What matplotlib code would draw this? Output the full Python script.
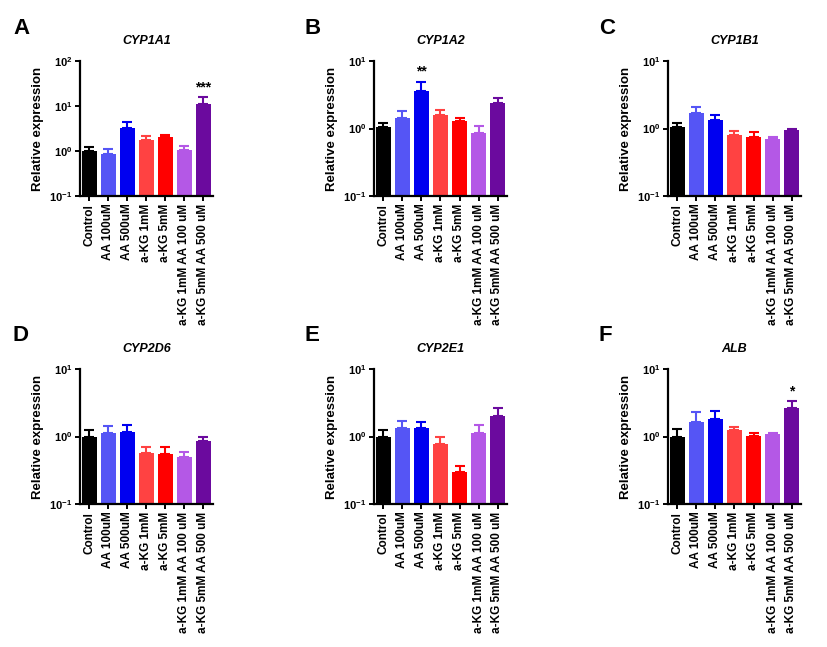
import matplotlib
matplotlib.use("Agg")
import matplotlib.pyplot as plt
import numpy as np

plt.rcParams['font.family'] = ['Liberation Sans', 'DejaVu Sans']
plt.rcParams['mathtext.fontset'] = 'custom'
plt.rcParams['mathtext.rm'] = 'Liberation Sans:bold'
plt.rcParams['mathtext.bf'] = 'Liberation Sans:bold'

categories = ["Control", "AA 100uM", "AA 500uM", "a-KG 1mM", "a-KG 5mM",
              "a-KG 1mM AA 100 uM", "a-KG 5mM AA 500 uM"]
colors = ["#000000", "#5555F5", "#0000F0", "#FF4242", "#FF0000", "#B458E6", "#6B0A9E"]

genes = ["CYP1A1", "CYP1A2", "CYP1B1", "CYP2D6", "CYP2E1", "ALB"]
letters = ["A", "B", "C", "D", "E", "F"]

cyp1a1_mean = [1.0, 0.87, 3.24, 1.73, 2.01, 1.05, 11.3]
cyp1a1_err = [1.23, 1.10, 4.3, 2.19, 2.23, 1.31, 15.8]
cyp1a2_mean = [1.04, 1.41, 3.59, 1.58, 1.28, 0.85, 2.41]
cyp1a2_err = [1.19, 1.84, 4.88, 1.87, 1.44, 1.10, 2.82]
cyp1b1_mean = [1.04, 1.68, 1.32, 0.81, 0.74, 0.71, 0.95]
cyp1b1_err = [1.19, 2.08, 1.60, 0.92, 0.88, 0.75, 0.99]
cyp2d6_mean = [1.0, 1.14, 1.17, 0.56, 0.55, 0.50, 0.87]
cyp2d6_err = [1.24, 1.45, 1.48, 0.69, 0.69, 0.58, 0.97]
cyp2e1_mean = [1.0, 1.35, 1.32, 0.78, 0.30, 1.14, 2.0]
cyp2e1_err = [1.25, 1.69, 1.66, 0.98, 0.36, 1.46, 2.63]
alb_mean = [1.0, 1.64, 1.79, 1.25, 1.03, 1.10, 2.63]
alb_err = [1.27, 2.27, 2.40, 1.40, 1.11, 1.13, 3.32]

means = [cyp1a1_mean, cyp1a2_mean, cyp1b1_mean, cyp2d6_mean, cyp2e1_mean, alb_mean]
uppers = [cyp1a1_err, cyp1a2_err, cyp1b1_err, cyp2d6_err, cyp2e1_err, alb_err]
ymaxes = [100, 10, 10, 10, 10, 10]
stars = [{6: "***"}, {2: "**"}, {}, {}, {}, {6: "*"}]

fig = plt.figure(figsize=(8.28, 6.47), dpi=100)
W, H = 828, 647
lefts = [80, 374, 668]
tops = [61, 369]
ax_w, ax_h = 133, 135
letter_x = [13, 305, 599]
letter_y = [18, 325]

for i in range(6):
    r, c = divmod(i, 3)
    l = lefts[c]; t = tops[r]
    ax = fig.add_axes([l / W, 1 - (t + ax_h) / H, ax_w / W, ax_h / H])
    x = np.arange(len(categories))
    m = np.array(means[i]); u = np.array(uppers[i])
    ax.bar(x, m, width=0.74, color=colors, bottom=0, zorder=2)
    for xi, mi, ui, col in zip(x, m, u, colors):
        ax.errorbar(xi, mi, yerr=[[0], [ui - mi]], fmt='none', ecolor=col,
                    elinewidth=1.5, capsize=3.5, capthick=1.5, zorder=3)
    ax.set_yscale('log')
    ax.set_ylim(0.1, ymaxes[i])
    ax.set_xlim(-0.5, len(categories) - 0.5)
    decs = np.arange(-1, int(np.log10(ymaxes[i])) + 1)
    ax.set_yticks([10.0 ** d for d in decs])
    ax.set_yticklabels([r'$\mathbf{10^{%d}}$' % d for d in decs], fontsize=8)
    ax.yaxis.set_minor_locator(matplotlib.ticker.NullLocator())
    ax.set_xticks(x)
    ax.set_xticklabels(categories, rotation=90, fontsize=8.5, fontweight='bold')
    ax.spines['top'].set_visible(False)
    ax.spines['right'].set_visible(False)
    ax.spines['left'].set_linewidth(1.6)
    ax.spines['bottom'].set_linewidth(1.6)
    ax.tick_params(axis='both', width=1.4, length=3.5, pad=2)
    ax.set_ylabel("Relative expression", fontsize=9.5, fontweight='bold', labelpad=4)
    ax.set_title(genes[i], fontsize=9, fontweight='bold', style='italic', pad=12)
    for k, s in stars[i].items():
        ax.text(k, u[k] * 1.12, s, ha='center', va='bottom', fontsize=10, fontweight='bold')
    fig.text(letter_x[c] / W, 1 - letter_y[r] / H, letters[i], fontsize=16,
             fontweight='bold', ha='left', va='top')

fig.savefig("out.png", dpi=100)
